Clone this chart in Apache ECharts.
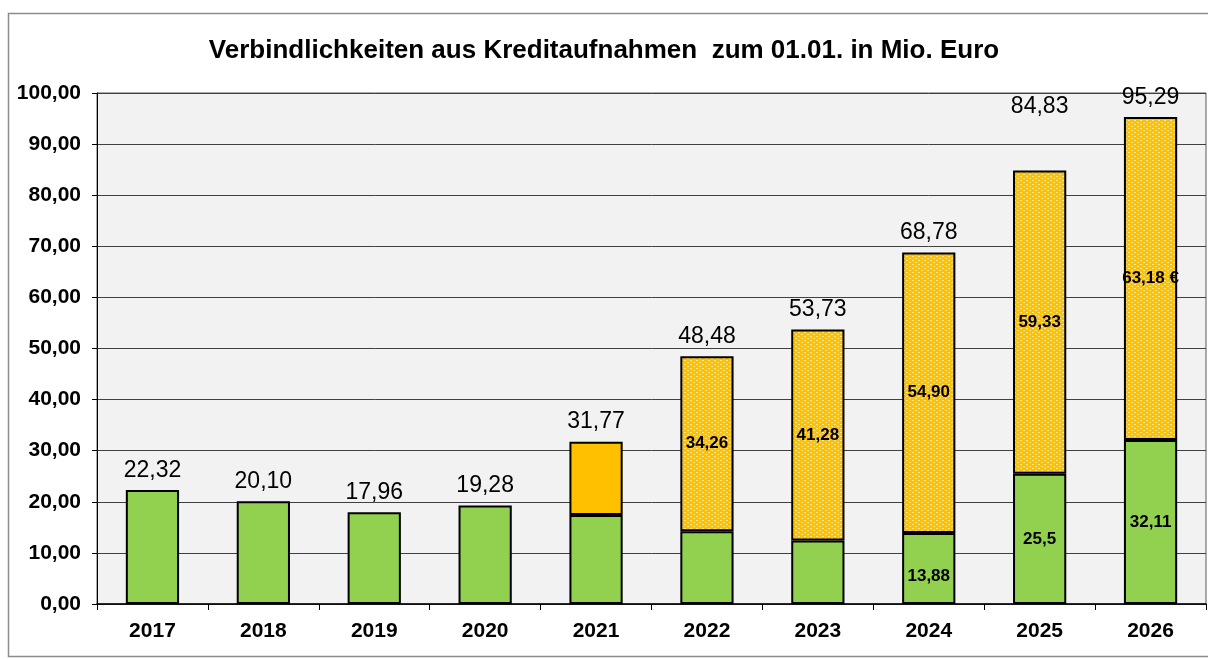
<!DOCTYPE html>
<html>
<head>
<meta charset="utf-8">
<script src="https://cdn.jsdelivr.net/npm/echarts@6/dist/echarts.min.js"></script>
<style>
    html, body {margin: 0; padding: 0; background: #ffffff;}
    #chart {width: 1208px; height: 659px;}
</style>
</head>
<body>
<div id="chart"></div>
<script type="text/javascript">
    // Jahre und Werte (Mio. Euro)
    var years = ['2017', '2018', '2019', '2020', '2021', '2022', '2023', '2024', '2025', '2026'];
    var gruen = [22.32, 20.10, 17.96, 19.28, 17.40, 14.22, 12.45, 13.88, 25.5, 32.11];
    var orange = [0, 0, 0, 0, 14.37, 34.26, 41.28, 54.90, 59.33, 63.18];
    var gesamt = [22.32, 20.10, 17.96, 19.28, 31.77, 48.48, 53.73, 68.78, 84.83, 95.29];
    var yTicks = [0, 10, 20, 30, 40, 50, 60, 70, 80, 90, 100];

    function komma(v) {
        return v.toFixed(2).replace('.', ',');
    }

    // Punktmuster fuer die geplanten Jahre
    var pc = document.createElement('canvas');
    pc.width = 6; pc.height = 4;
    var ctx = pc.getContext('2d');
    ctx.fillStyle = '#ffc000';
    ctx.fillRect(0, 0, 6, 4);
    ctx.fillStyle = '#ffe89a';
    ctx.fillRect(0, 0, 2, 1);
    ctx.fillRect(3, 2, 2, 1);
    var muster = {image: pc, repeat: 'repeat'};

    var font = '"Liberation Sans", Arial, sans-serif';

    var myChart = echarts.init(document.getElementById('chart'));

    var gruenData = gruen.map(function (v, i) {
        var d = {value: v, label: {show: i >= 7}};
        if (years[i] === '2024') d.label.offset = [0, 8];
        return d;
    });
    var orangeData = orange.map(function (v, i) {
        return {
            value: v,
            itemStyle: {color: i >= 5 ? muster : '#ffc000', borderWidth: v > 0 ? 2 : 0},
            label: {show: i >= 5}
        };
    });
    var gesamtData = gesamt.map(function (v, i) {
        var d = {value: v};
        if (years[i] === '2025') d.label = {offset: [0, -44]};
        return d;
    });

    var option = {
        animation: false,
        title: {
            text: 'Verbindlichkeiten aus Kreditaufnahmen  zum 01.01. in Mio. Euro',
            left: 'center',
            top: 33,
            textStyle: {fontFamily: font, fontSize: 26, fontWeight: 'bold', color: '#000'}
        },
        graphic: [{
            type: 'rect',
            shape: {x: 8.5, y: 13.5, width: 1220, height: 643},
            style: {fill: 'none', stroke: '#8c8c8c', lineWidth: 1.5},
            silent: true
        }],
        grid: {
            left: 97, right: 2, top: 93, bottom: 55,
            show: true,
            backgroundColor: '#f2f2f2',
            borderColor: '#595959',
            borderWidth: 1
        },
        xAxis: {
            type: 'category',
            data: years,
            axisLine: {lineStyle: {color: '#000', width: 1.5}},
            axisTick: {show: true, length: 6, lineStyle: {color: '#000'}},
            axisLabel: {fontFamily: font, fontSize: 21, fontWeight: 'bold', color: '#000', margin: 17}
        },
        yAxis: {
            type: 'value',
            min: yTicks[0],
            max: yTicks[yTicks.length - 1],
            interval: yTicks[1] - yTicks[0],
            axisLine: {show: true, lineStyle: {color: '#000', width: 1}},
            axisTick: {show: true, length: 5, lineStyle: {color: '#000'}},
            splitLine: {lineStyle: {color: '#404040', width: 1}},
            axisLabel: {
                fontFamily: font, fontSize: 21, fontWeight: 'bold', color: '#000', margin: 16,
                formatter: function (v) { return komma(v); }
            }
        },
        series: [{
            name: 'Bestand',
            type: 'bar',
            stack: 'k',
            barWidth: '48%',
            data: gruenData,
            itemStyle: {color: '#92d050', borderColor: '#000', borderWidth: 2},
            label: {
                position: 'inside',
                fontFamily: font, fontSize: 17, fontWeight: 'bold', color: '#000',
                formatter: function (p) { return String(p.value).replace('.', ','); }
            }
        }, {
            name: 'Neu',
            type: 'bar',
            stack: 'k',
            data: orangeData,
            itemStyle: {borderColor: '#000'},
            label: {
                position: 'inside',
                fontFamily: font, fontSize: 17, fontWeight: 'bold', color: '#000',
                formatter: function (p) {
                    return komma(p.value) + (p.dataIndex === years.length - 1 ? ' €' : '');
                }
            }
        }, {
            name: 'Gesamt',
            type: 'bar',
            barGap: '-100%',
            barWidth: '48%',
            z: 1,
            data: gesamtData,
            itemStyle: {color: 'rgba(0,0,0,0)'},
            label: {
                show: true,
                position: 'top',
                distance: 8,
                fontFamily: font, fontSize: 23, color: '#000',
                formatter: function (p) { return komma(p.value); }
            }
        }]
    };
    myChart.setOption(option);
</script>
</body>
</html>
